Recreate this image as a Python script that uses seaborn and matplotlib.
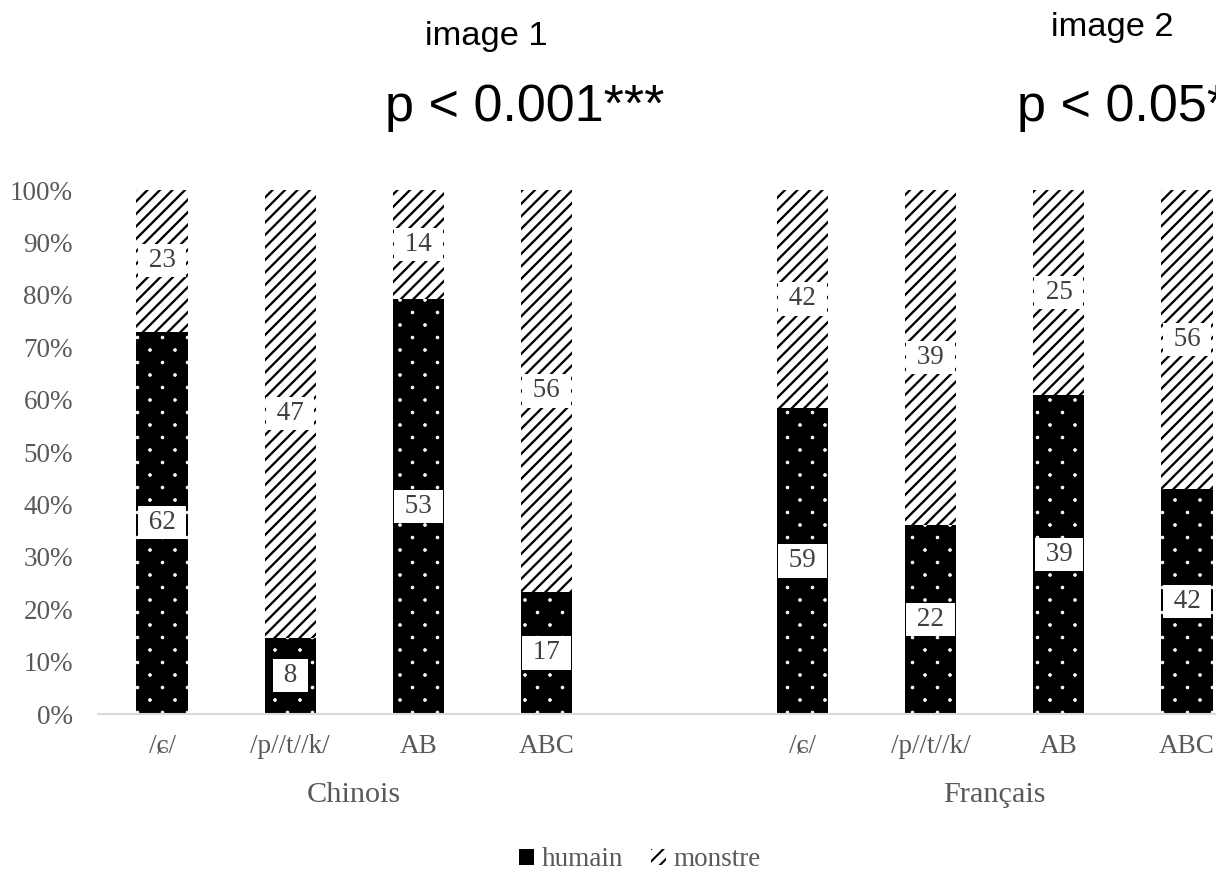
import numpy as np
import pandas as pd
import matplotlib
matplotlib.use("Agg")
import matplotlib.pyplot as plt
from matplotlib import hatch as mhatch
from matplotlib.patches import Patch
import seaborn as sns

# ---- data -------------------------------------------------------------
langues = ["Chinois", "Français"]
stimuli = ["/ɕ/", "/p//t//k/", "AB", "ABC"]
humain = [62, 8, 53, 17, 59, 22, 39, 42]
monstre = [23, 47, 14, 56, 42, 39, 25, 56]
series = ["humain", "monstre"]
titres = ["image 1", "image 2"]
p_valeurs = ["p < 0.001***", "p < 0.05*"]


# ---- dotted fill: small dots on a diamond lattice ----------------------
class DiamondDots(mhatch.SmallFilledCircles):
    size = 0.055

    def __init__(self, hatch, density):
        super().__init__(hatch, density)
        n = self.num_rows
        if n:
            self.num_shapes = (n + 1) ** 2 + n ** 2
            self.num_vertices = self.num_shapes * len(self.shape_vertices)

    def set_vertices_and_codes(self, vertices, codes):
        n = self.num_rows
        step = 1.0 / n
        shape = self.shape_vertices * step * self.size
        parts = []
        for row in range(2 * n + 1):
            if row % 2 == 0:
                cols = np.linspace(0, 1, n + 1)
            else:
                cols = np.linspace(step / 2, 1 - step / 2, n)
            for c in cols:
                parts.append(shape + [c, row * step / 2])
        vertices[:] = np.concatenate(parts)
        codes[:] = np.tile(self.shape_codes, len(parts))


mhatch._hatch_types = [DiamondDots if t is mhatch.SmallFilledCircles else t
                       for t in mhatch._hatch_types]

# ---- table -------------------------------------------------------------
n_stim = len(stimuli)
df = pd.DataFrame({
    "langue": np.repeat(langues, n_stim),
    "stimulus": stimuli * len(langues),
    "humain": humain,
    "monstre": monstre,
})
df["rang"] = [i * (n_stim + 1) + j for i in range(len(langues)) for j in range(n_stim)]
df["total"] = df["humain"] + df["monstre"]
df["part_humain"] = df["humain"] / df["total"]
df["part_totale"] = df["total"] / df["total"]

# ---- style -------------------------------------------------------------
sns.set_theme(style="white")
SERIF = ["Liberation Serif", "DejaVu Serif"]
SANS = ["Liberation Sans", "DejaVu Sans"]
plt.rcParams["font.family"] = SERIF
GRIS = "#595959"

W, H, DPI = 1216, 881, 150
fig = plt.figure(figsize=(W / DPI, H / DPI), dpi=DPI)
fig.patch.set_facecolor("white")

# plot area (extends past the right edge of the figure)
left, right, bottom, top = 98, 1251, 714, 190
ax = fig.add_axes([left / W, 1 - bottom / H, (right - left) / W, (bottom - top) / H])

LW_MONSTRE = 1.1
LW_HUMAIN = 0.4
HACH_MONSTRE = "////"
HACH_HUMAIN = "."

with plt.rc_context({"hatch.linewidth": LW_MONSTRE}):
    sns.barplot(data=df, x="rang", y="part_totale", native_scale=True, orient="x",
                width=0.4, color="white", edgecolor="black", linewidth=0,
                hatch=HACH_MONSTRE, saturation=1, errorbar=None, ax=ax)
n_first = len(ax.patches)
with plt.rc_context({"hatch.linewidth": LW_HUMAIN}):
    sns.barplot(data=df, x="rang", y="part_humain", native_scale=True, orient="x",
                width=0.4, color="black", edgecolor="white", linewidth=0,
                hatch=HACH_HUMAIN, saturation=1, errorbar=None, ax=ax)

for i, p in enumerate(ax.patches):
    if hasattr(p, "set_hatch_linewidth"):
        p.set_hatch_linewidth(LW_MONSTRE if i < n_first else LW_HUMAIN)

# value labels in white boxes
boite = dict(boxstyle="square,pad=0.15", fc="white", ec="none")
for _, r in df.iterrows():
    ax.text(r["rang"], r["part_humain"] / 2, f" {r['humain']} ", ha="center", va="center",
            fontsize=13, color="#404040", bbox=boite, zorder=5)
    ax.text(r["rang"], r["part_humain"] + (1 - r["part_humain"]) / 2, f" {r['monstre']} ",
            ha="center", va="center", fontsize=13, color="#404040", bbox=boite, zorder=5)

# axes
ax.set_xlim(-0.5, len(langues) * (n_stim + 1) - 1.5)
ax.set_ylim(0, 1)
yt = np.linspace(0, 1, 11)
ax.set_yticks(yt)
ax.set_yticklabels([f"{v:.0%}" for v in yt])
ax.set_xticks(df["rang"])
ax.set_xticklabels(df["stimulus"])
ax.tick_params(axis="y", length=0, pad=12, labelsize=13, labelcolor=GRIS)
ax.tick_params(axis="x", length=0, pad=9.5, labelsize=13, labelcolor=GRIS)
ax.set_xlabel("")
ax.set_ylabel("")
ax.grid(False)
for s in ["top", "right", "left"]:
    ax.spines[s].set_visible(False)
ax.spines["bottom"].set_color("#d9d9d9")
ax.spines["bottom"].set_linewidth(1.0)

# group labels under the categories
for i, lang in enumerate(langues):
    centre = i * (n_stim + 1) + (n_stim - 1) / 2
    ax.text(centre, -(802 - bottom) / (bottom - top), lang, transform=ax.get_xaxis_transform(),
            ha="center", va="baseline", fontsize=14.5, color=GRIS)

# legend (the dotted fill is too fine to show in a small key, so it reads as solid black)
handles = [
    Patch(facecolor="black", edgecolor="black", linewidth=0),
    Patch(facecolor="white", edgecolor="black", hatch=HACH_MONSTRE, linewidth=0),
]
if hasattr(handles[1], "set_hatch_linewidth"):
    handles[1].set_hatch_linewidth(LW_MONSTRE)
fig.legend(handles, series, loc="center", bbox_to_anchor=(640 / W, 1 - 860 / H), ncol=2,
           frameon=False, fontsize=13, labelcolor=GRIS, handlelength=0.55,
           handleheight=0.55, handletextpad=0.3, columnspacing=1.0)

# headings above each group
fig.text(486 / W, 1 - 45 / H, titres[0], ha="center", va="baseline", fontsize=16.5,
         family=SANS, color="black")
fig.text(1112 / W, 1 - 36 / H, titres[1], ha="center", va="baseline", fontsize=16.5,
         family=SANS, color="black")
fig.text(385 / W, 1 - 121 / H, p_valeurs[0], ha="left", va="baseline", fontsize=25,
         family=SANS, color="black")
fig.text(1017 / W, 1 - 121 / H, p_valeurs[1], ha="left", va="baseline", fontsize=25,
         family=SANS, color="black")

fig.savefig("out.png", dpi=DPI, facecolor="white")
